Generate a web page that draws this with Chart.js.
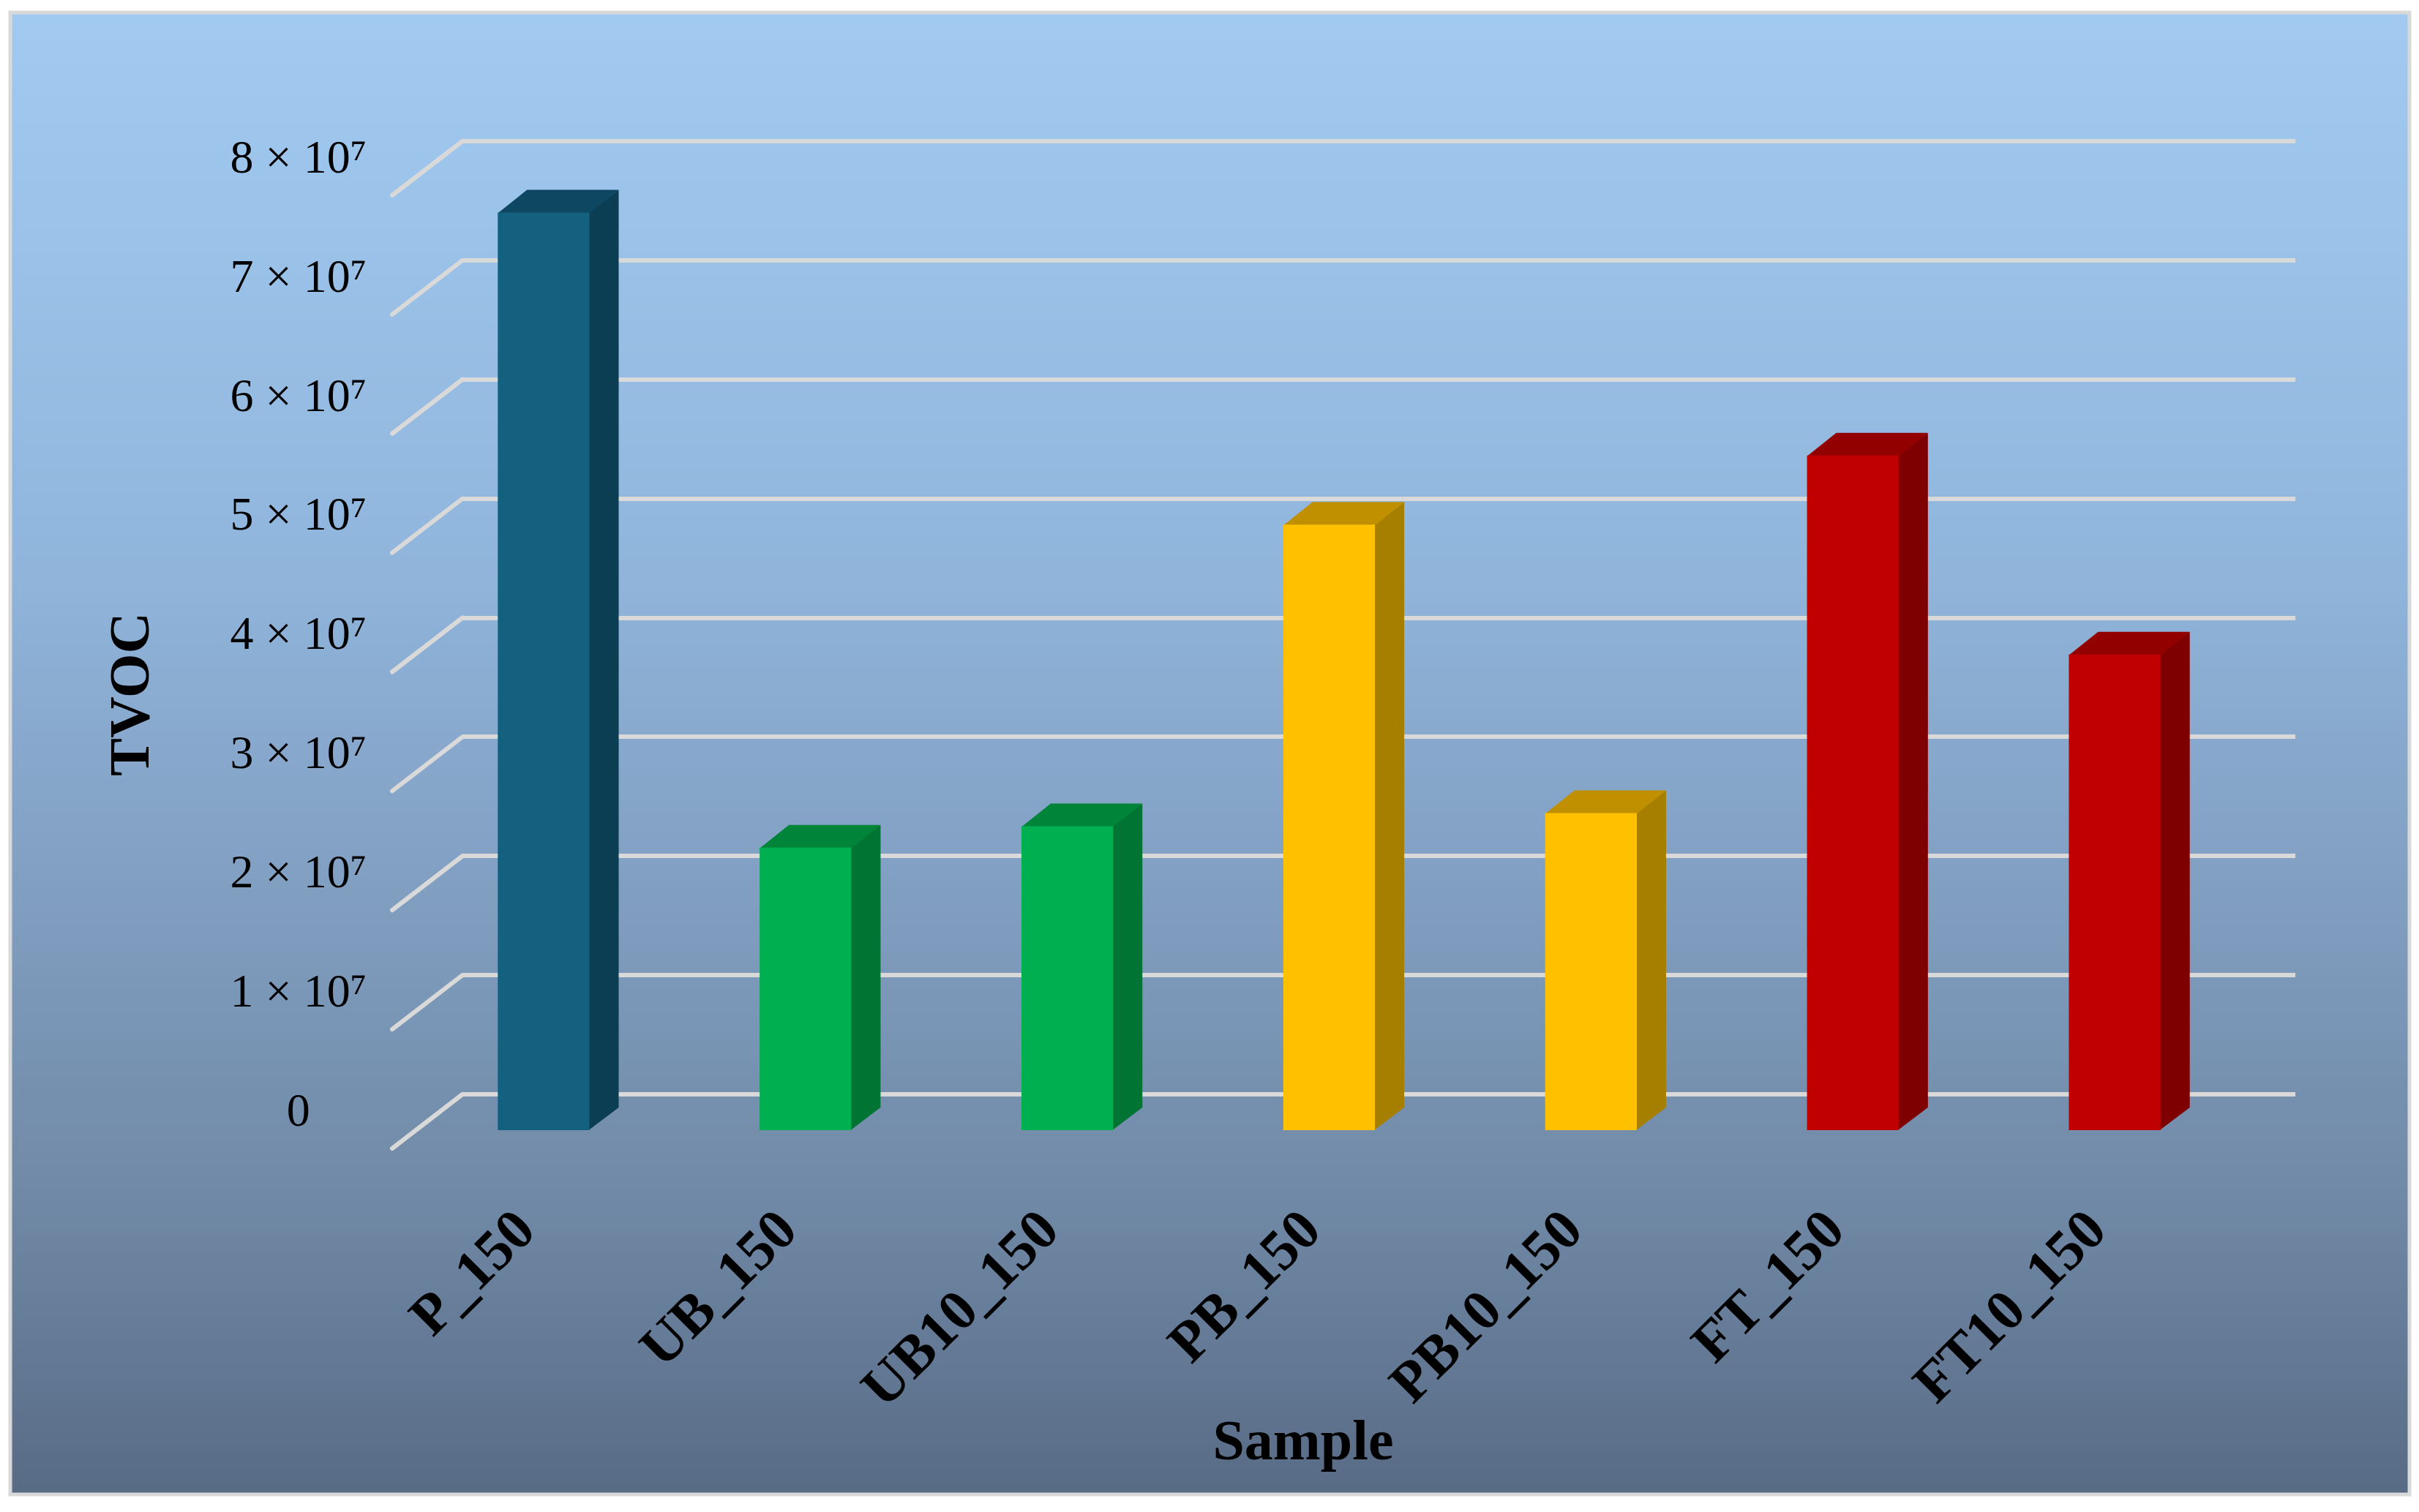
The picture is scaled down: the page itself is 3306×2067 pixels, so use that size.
<!DOCTYPE html>
<html>
<head>
<meta charset="utf-8">
<script src="https://cdn.jsdelivr.net/npm/chart.js@4.4.0/dist/chart.umd.min.js"></script>
<style>
  html, body { margin: 0; padding: 0; background: #ffffff; }
  #wrap { width: 3306px; height: 2067px; }
</style>
</head>
<body>
<div id="wrap"><canvas id="myChart" width="3306" height="2067"></canvas></div>
<script>
    // данные
    const samples = ['P_150', 'UB_150', 'UB10_150', 'PB_150', 'PB10_150', 'FT_150', 'FT10_150'];
    const tvoc = [7.72e7, 2.39e7, 2.57e7, 5.10e7, 2.68e7, 5.68e7, 4.01e7];
    const tickLabels = ['0', '1 × 10⁷', '2 × 10⁷', '3 × 10⁷', '4 × 10⁷', '5 × 10⁷', '6 × 10⁷', '7 × 10⁷', '8 × 10⁷'];

    const frontColors = ['#14607F', '#00B050', '#00B050', '#FFC000', '#FFC000', '#C00000', '#C00000'];
    const sideColors = ['#0B3E53', '#007432', '#007432', '#A67F00', '#A67F00', '#7F0000', '#7F0000'];
    const topColors = ['#0D4761', '#00843A', '#00843A', '#C09000', '#C09000', '#920000', '#920000'];

    const FRONT = { x: -68, y: 52 };  // сдвиг передней грани столбца от задней стенки
    const DEPTH = { x: 40, y: -31 };  // глубина столбца
    const FLOOR = { x: -96, y: 74 };  // от задней стенки к переднему краю пола
    const gridColor = '#D9D9D9';

    let myChart;

    const fake3d = {
        id: 'fake3d',
        beforeDraw(chart) {
            let ctx = chart.ctx;
            ctx.save();
            ctx.fillStyle = '#ffffff';
            ctx.fillRect(0, 0, chart.width, chart.height);
            let g = ctx.createLinearGradient(0, 17, 0, 2043);
            g.addColorStop(0, '#A2CAF0');
            g.addColorStop(0.35, '#92B7DE');
            g.addColorStop(0.6, '#809EC0');
            g.addColorStop(0.8, '#7089A6');
            g.addColorStop(1, '#586B85');
            ctx.fillStyle = g;
            ctx.fillRect(14, 17, 3279, 2026);
            ctx.strokeStyle = gridColor;
            ctx.lineWidth = 5;
            ctx.strokeRect(14, 17, 3279, 2026);
            ctx.restore();
        },
        beforeDatasetsDraw(chart) {
            // косые линии от стенки к полу
            let ctx = chart.ctx;
            let y = chart.scales.y;
            let left = chart.chartArea.left;
            ctx.save();
            ctx.strokeStyle = gridColor;
            ctx.lineWidth = 6;
            ctx.lineCap = 'round';
            y.ticks.forEach(t => {
                let py = y.getPixelForValue(t.value);
                ctx.beginPath();
                ctx.moveTo(left, py);
                ctx.lineTo(left + FLOOR.x, py + FLOOR.y);
                ctx.stroke();
            });
            ctx.restore();
        },
        beforeDatasetDraw(chart, args) {
            let ctx = chart.ctx;
            ctx.save();
            ctx.translate(FRONT.x, FRONT.y);
            args.meta.data.forEach((bar, i) => {
                let l = bar.x - bar.width / 2;
                let r = bar.x + bar.width / 2;
                // боковая грань
                ctx.fillStyle = sideColors[i];
                ctx.beginPath();
                ctx.moveTo(r - 1, bar.y);
                ctx.lineTo(r + DEPTH.x, bar.y + DEPTH.y);
                ctx.lineTo(r + DEPTH.x, bar.base + DEPTH.y);
                ctx.lineTo(r - 1, bar.base);
                ctx.closePath();
                ctx.fill();
                // верхняя грань
                ctx.fillStyle = topColors[i];
                ctx.beginPath();
                ctx.moveTo(l, bar.y + 1);
                ctx.lineTo(l + DEPTH.x, bar.y + DEPTH.y);
                ctx.lineTo(r + DEPTH.x, bar.y + DEPTH.y);
                ctx.lineTo(r, bar.y + 1);
                ctx.closePath();
                ctx.fill();
            });
        },
        afterDatasetDraw(chart) {
            chart.ctx.restore();
        },
        afterDraw(chart) {
            let ctx = chart.ctx;
            ctx.save();
            ctx.fillStyle = '#000000';
            ctx.font = 'bold 78px "Liberation Serif"';
            ctx.textAlign = 'center';
            ctx.textBaseline = 'middle';
            ctx.fillText('Sample', 1781, 1975);
            ctx.translate(183, 949);
            ctx.rotate(-Math.PI / 2);
            ctx.fillText('TVOC', 0, 0);
            ctx.restore();
        }
    };

    let ctx = document.getElementById('myChart');
    myChart = new Chart(ctx, {
        type: 'bar',
        data: {
            labels: samples,
            datasets: [{
                label: 'TVOC',
                data: tvoc,
                backgroundColor: frontColors,
                borderWidth: 0,
                barPercentage: 1,
                categoryPercentage: 0.35,
                clip: false
            }]
        },
        options: {
            responsive: false,
            animation: false,
            devicePixelRatio: 1,
            layout: {
                padding: { top: 193, right: 169, left: 0, bottom: 0 }
            },
            plugins: {
                legend: { display: false },
                tooltip: { enabled: false }
            },
            scales: {
                x: {
                    grid: { display: false },
                    border: { display: false },
                    ticks: {
                        autoSkip: false,
                        minRotation: 45,
                        maxRotation: 45,
                        padding: 134,
                        labelOffset: -90,
                        color: '#000000',
                        font: { family: 'Liberation Serif', size: 78, weight: 'bold' }
                    },
                    afterFit: (scale) => { scale.height = 571; }
                },
                y: {
                    min: 0,
                    max: 8e7,
                    grid: { color: gridColor, lineWidth: 6, drawTicks: false },
                    border: { display: false },
                    ticks: {
                        stepSize: 1e7,
                        callback: (v, i) => tickLabels[i],
                        padding: 131,
                        crossAlign: 'center',
                        labelOffset: 26,
                        color: '#000000',
                        font: { family: 'Liberation Serif', size: 64 }
                    },
                    afterFit: (scale) => { scale.width = 632; }
                }
            }
        },
        plugins: [fake3d]
    });
</script>
</body>
</html>
